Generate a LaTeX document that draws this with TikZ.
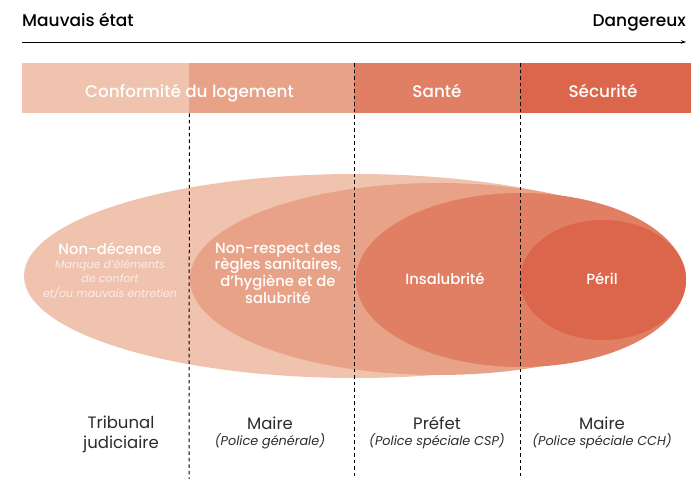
\documentclass[tikz,border=0pt]{standalone}
\usepackage{fontspec}
\setmainfont{Poppins}
\newfontfamily\popmed{Poppins Medium}
\usetikzlibrary{positioning, arrows.meta}

\definecolor{lvlA}{HTML}{F0C3AF}
\definecolor{lvlB}{HTML}{E8A287}
\definecolor{lvlC}{HTML}{E07F63}
\definecolor{lvlD}{HTML}{DC664B}
\definecolor{txtgray}{HTML}{2B2B2B}

\tikzset{
  band/.style={fill=#1, draw=none, inner sep=0pt, minimum height=50pt, anchor=north west},
  sep/.style={dash pattern=on 3.5pt off 3pt, line width=1pt},
  title/.style={font=\popmed\fontsize{17}{18}\selectfont, text=black, inner sep=0pt},
  head/.style={font=\popmed\fontsize{16.8}{18}\selectfont, text=white, inner sep=0pt, anchor=base},
  lab/.style={font=\popmed\fontsize{14.8}{15.5}\selectfont, text=white, align=center, inner sep=0pt},
  sub/.style={font=\fontsize{11}{14.3}\selectfont\itshape, text=white, text opacity=0.7, align=center, inner sep=0pt},
  who/.style={font=\fontsize{16.5}{20}\selectfont, text=txtgray, align=center, inner sep=0pt},
  role/.style={font=\fontsize{12.8}{14}\selectfont\itshape, text=txtgray, inner sep=0pt}
}

\begin{document}
\begin{tikzpicture}[x=1pt, y=-1pt]
	\useasboundingbox (0,0) rectangle (691,479);

	\node[title, anchor=base west] (bad) at (22,27) {Mauvais état};
	\node[title, anchor=base east] (danger) at (686,27) {Dangereux};
	\coordinate (axisL) at (22,42);
	\coordinate (axisR) at (686,42);
	\draw[-{Stealth[length=5pt, width=3.5pt]}, line width=0.8pt] (axisL) -- (axisR);

	\node[band=lvlA, minimum width=167pt] (b1) at (22,63) {};
	\node[band=lvlB, minimum width=165pt] (b2) at (189,63) {};
	\node[band=lvlC, minimum width=166pt] (b3) at (354,63) {};
	\node[band=lvlD, minimum width=171pt] (b4) at (520,63) {};

	\node[head] (conf) at (189.5,97) {Conformité du logement};
	\node[head] (sante) at (437,97) {Santé};
	\node[head] (secu) at (603,97) {Sécurité};

	\fill[lvlA] (355,276) ellipse [x radius=331, y radius=102];
	\fill[lvlB] (438,279) ellipse [x radius=248, y radius=96];
	\fill[lvlC] (521,280) ellipse [x radius=165, y radius=87];
	\fill[lvlD] (603,280) ellipse [x radius=83, y radius=60];

	\node[lab] (nondec) at (110,249) {Non-décence};
	\node[sub, below=4.5pt of nondec] (manque) {Manque d’éléments\\de confort\\et/ou mauvais entretien};
	\node[lab] (nonresp) at (278,273) {Non-respect des\\règles sanitaires,\\d’hygiène et de\\salubrité};
	\node[lab] (insal) at (445,279) {Insalubrité};
	\node[lab] (peril) at (602,279) {Péril};

	\draw[sep] (b1.south east) -- (189,479);
	\draw[sep] (b3.north west) -- (354,479);
	\draw[sep] (b4.north west) -- (520,479);

	\node[who] (trib) at (121,434) {Tribunal\\judiciaire};
	\node[who] (maire1) at (270,423) {Maire};
	\node[role, below=4pt of maire1] (pol1) {(Police générale)};
	\node[who] (prefet) at (437,423) {Préfet};
	\node[role, below=4pt of prefet] (pol2) {(Police spéciale CSP)};
	\node[who] (maire2) at (602,423) {Maire};
	\node[role, below=4pt of maire2] (pol3) {(Police spéciale CCH)};
\end{tikzpicture}
\end{document}
